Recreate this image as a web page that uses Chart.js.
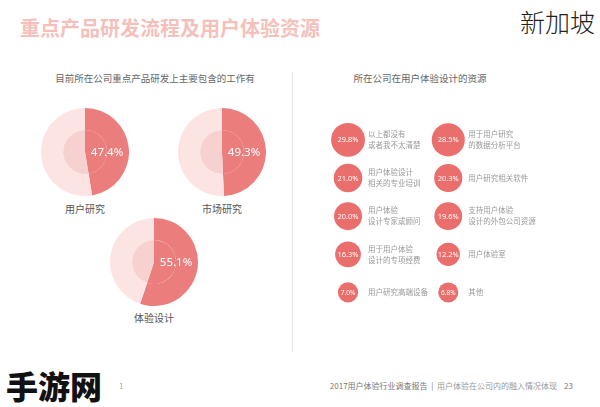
<!DOCTYPE html>
<html>
<head>
<meta charset="utf-8">
<script src="https://cdn.jsdelivr.net/npm/chart.js@4/dist/chart.umd.min.js"></script>
<style>
  body { margin: 0; background: #fff; font-family: "Noto Sans CJK SC", "Noto Sans", sans-serif; }
  #page { position: relative; width: 600px; height: 407px; overflow: hidden; background: #fff; }
  .abs { position: absolute; white-space: nowrap; }
  canvas { position: absolute; }
</style>
</head>
<body>
<div id="page">
  <div class="abs" style="left:20px;top:13px;font-size:20px;font-weight:700;color:#f5bfbb">重点产品研发流程及用户体验资源</div>
  <div class="abs" style="left:520px;top:3px;font-size:25px;font-weight:300;color:#222">新加坡</div>

  <div class="abs" style="left:55px;top:71px;width:200px;text-align:center;font-size:9.5px;color:#666">目前所在公司重点产品研发上主要包含的工作有</div>
  <div class="abs" style="left:340px;top:71px;width:160px;text-align:center;font-size:9.5px;color:#666">所在公司在用户体验设计的资源</div>

  <div class="abs" style="left:292px;top:72px;width:1px;height:280px;background:#e6e6e6"></div>

  <canvas id="pie0" width="88" height="88" style="left:41px;top:108px"></canvas>
  <canvas id="pie1" width="88" height="88" style="left:178px;top:108px"></canvas>
  <canvas id="pie2" width="88" height="88" style="left:110px;top:218px"></canvas>
  <div class="abs" id="lab0" style="left:45px;top:201px;width:80px;text-align:center;font-size:10px;color:#555"></div>
  <div class="abs" id="lab1" style="left:182px;top:201px;width:80px;text-align:center;font-size:10px;color:#555"></div>
  <div class="abs" id="lab2" style="left:114px;top:310px;width:80px;text-align:center;font-size:10px;color:#555"></div>

  <canvas id="bubbles" width="300" height="230" style="left:300px;top:100px"></canvas>

  <div class="abs" style="left:6px;top:362px;font-size:32px;font-weight:900;color:#111;font-family:'Noto Sans CJK SC'">手游网</div>
  <div class="abs" style="left:119px;top:380px;font-size:8px;color:#aaa">1</div>
  <div class="abs" style="right:27px;top:380px;font-size:8px;color:#777">2017用户体验行业调查报告 &nbsp;|&nbsp; <span style="color:#999">用户体验在公司内的融入情况体现</span> &nbsp;&nbsp;&nbsp;23</div>
</div>

<script>
// 重点产品研发上主要包含的工作
var workLabels = ['用户研究', '市场研究', '体验设计'];
var workValues = [47.4, 49.3, 55.1];

// 用户体验设计的资源
var resLabels = [
  '以上都没有\n或者我不太清楚',
  '用于用户研究\n的数据分析平台',
  '用户体验设计\n相关的专业培训',
  '用户研究相关软件',
  '用户体验\n设计专家或顾问',
  '支持用户体验\n设计的外包公司资源',
  '用于用户体验\n设计的专项经费',
  '用户体验室',
  '用户研究高端设备',
  '其他'
];
var resValues = [29.8, 28.5, 21.0, 20.3, 20.0, 19.6, 16.3, 12.2, 7.0, 6.8];

var red = '#ec7d7d';
var light = '#fce4e2';
var mid = '#f7d1cf';
var bubbleRed = '#ea6e6b';

var pieText = {
  id: 'pieText',
  afterDatasetsDraw: function (chart) {
    var arc = chart.getDatasetMeta(0).data[0];
    var ctx = chart.ctx;
    ctx.save();
    ctx.fillStyle = '#fff';
    ctx.font = '11.5px "Noto Sans", sans-serif';
    ctx.textAlign = 'center';
    ctx.textBaseline = 'middle';
    ctx.fillText(chart.data.datasets[0].data[0].toFixed(1) + '%', arc.x + arc.outerRadius * 0.5, arc.y + 1);
    ctx.restore();
  }
};

for (var i = 0; i < workValues.length; i++) {
  document.getElementById('lab' + i).textContent = workLabels[i];
  var v = workValues[i];
  new Chart(document.getElementById('pie' + i), {
    type: 'pie',
    data: {
      labels: [workLabels[i], ''],
      datasets: [
        { data: [v, 100 - v], backgroundColor: [red, light], borderWidth: 0 },
        { data: [v, 100 - v], backgroundColor: [red, mid], borderWidth: 0 }
      ]
    },
    options: {
      responsive: false,
      animation: false,
      events: [],
      plugins: { legend: { display: false }, tooltip: { enabled: false } }
    },
    plugins: [pieText]
  });
}

var bubbleText = {
  id: 'bubbleText',
  afterDatasetsDraw: function (chart) {
    var ctx = chart.ctx;
    var pts = chart.getDatasetMeta(0).data;
    ctx.save();
    for (var k = 0; k < pts.length; k++) {
      var p = pts[k];
      ctx.fillStyle = '#fff';
      ctx.font = (resValues[k] < 10 ? '6.5px' : '7.5px') + ' "Noto Sans", sans-serif';
      ctx.textAlign = 'center';
      ctx.textBaseline = 'middle';
      ctx.fillText(resValues[k].toFixed(1) + '%', p.x, p.y + 0.5);
      var lines = resLabels[k].split('\n');
      ctx.fillStyle = '#999';
      ctx.font = '7.5px "Noto Sans CJK SC", sans-serif';
      ctx.textAlign = 'left';
      var y0 = p.y - (lines.length - 1) * 5.5;
      for (var j = 0; j < lines.length; j++) {
        ctx.fillText(lines[j], p.x + 20, y0 + j * 11);
      }
    }
    ctx.restore();
  }
};

var bubbleData = resValues.map(function (v, i) {
  return { x: i % 2, y: Math.floor(i / 2), r: 8 + v * 0.3 };
});

new Chart(document.getElementById('bubbles'), {
  type: 'bubble',
  data: {
    datasets: [{ data: bubbleData, backgroundColor: bubbleRed, borderWidth: 0 }]
  },
  options: {
    responsive: false,
    animation: false,
    events: [],
    layout: { padding: 0 },
    scales: {
      x: { display: false, min: -0.31, max: 2.345 },
      y: { display: false, min: -0.6, max: 4.54, reverse: true }
    },
    plugins: { legend: { display: false }, tooltip: { enabled: false } }
  },
  plugins: [bubbleText]
});
</script>
</body>
</html>
